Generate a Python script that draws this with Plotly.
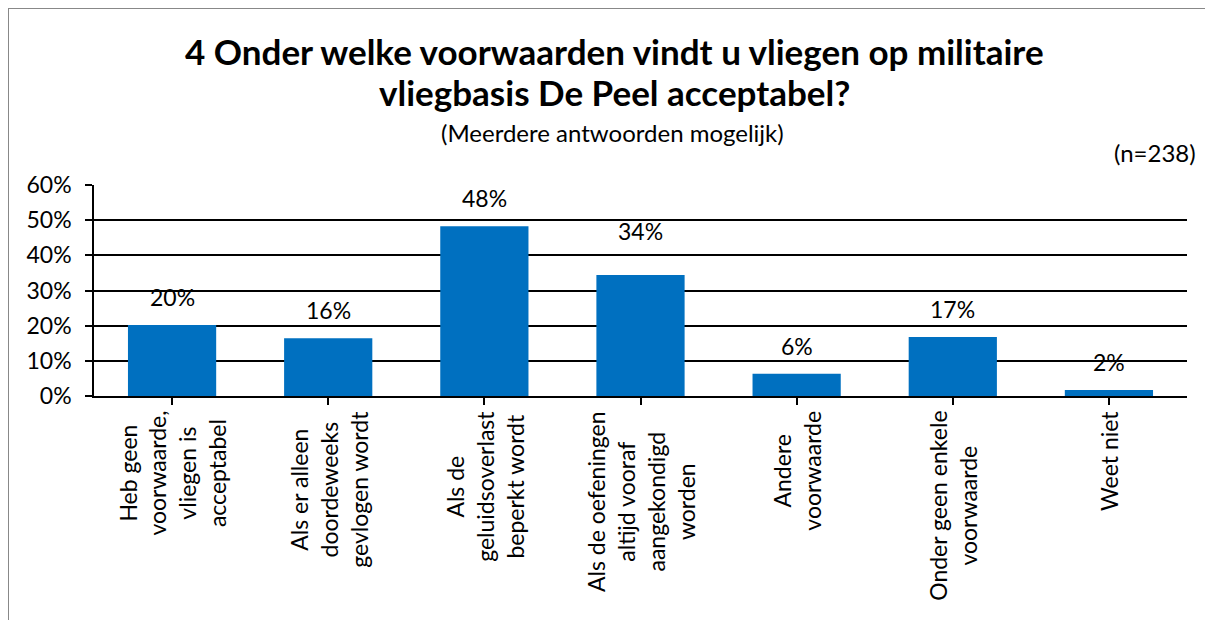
import plotly.graph_objects as go

categories = [
    "Heb geen<br>voorwaarde,<br>vliegen is<br>acceptabel",
    "Als er alleen<br>doordeweeks<br>gevlogen wordt",
    "Als de<br>geluidsoverlast<br>beperkt wordt",
    "Als de oefeningen<br>altijd vooraf<br>aangekondigd<br>worden",
    "Andere<br>voorwaarde",
    "Onder geen enkele<br>voorwaarde",
    "Weet niet",
]
values = [20.2, 16.4, 48.3, 34.4, 6.3, 16.8, 1.7]
labels = ["20%", "16%", "48%", "34%", "6%", "17%", "2%"]
yticks = [0, 10, 20, 30, 40, 50, 60]
ytick_text = ["0%", "10%", "20%", "30%", "40%", "50%", "60%"]

FONT = "Lato"
OFF = 8  # body margin of the html page
W, H = 1197, 612  # fits inside the window without scrollbars
L, R, T, B = 94 - OFF, 1197 - (1187 - OFF), 185 - OFF, 612 - (396 - OFF)
pw, ph = W - L - R, H - T - B

def px(X):
    # page x -> paper
    return (X - OFF - L) / pw

def py(Y):
    # page y -> paper
    return (H - B - (Y - OFF)) / ph

fig = go.Figure()
fig.add_trace(go.Bar(
    x=list(range(len(values))), y=values,
    marker=dict(color="#0070C0", line=dict(width=0)),
    width=0.565,
    text=labels, textposition="none",
    hoverinfo="skip",
))

extra_shift = {3: 16}  # Excel moved this label up to avoid the gridline
annotations = []
for i, (v, t) in enumerate(zip(values, labels)):
    annotations.append(dict(
        x=i, y=v, xref="x", yref="y", text=t, showarrow=False,
        yanchor="bottom", yshift=12 + extra_shift.get(i, 0),
        font=dict(family=FONT, size=23, color="black")))

annotations += [
    dict(x=px(614), y=py(51), xref="paper", yref="paper",
         text="<b>4 Onder welke voorwaarden vindt u vliegen op militaire</b>",
         showarrow=False, font=dict(family=FONT, size=35, color="black"),
         xanchor="center", yanchor="middle"),
    dict(x=px(614), y=py(92), xref="paper", yref="paper",
         text="<b>vliegbasis De Peel acceptabel?</b>",
         showarrow=False, font=dict(family=FONT, size=35, color="black"),
         xanchor="center", yanchor="middle"),
    dict(x=px(612), y=py(132), xref="paper", yref="paper",
         text="(Meerdere antwoorden mogelijk)",
         showarrow=False, font=dict(family=FONT, size=24, color="black"),
         xanchor="center", yanchor="middle"),
    dict(x=px(1198), y=py(152), xref="paper", yref="paper",
         text="(n=238)",
         showarrow=False, font=dict(family=FONT, size=24, color="black"),
         xanchor="right", yanchor="middle"),
]

for i, c in enumerate(categories):
    annotations.append(dict(
        x=i, y=py(409), xref="x", yref="paper", text=c, showarrow=False,
        textangle=-90, align="center", xanchor="center", yanchor="top",
        font=dict(family=FONT, size=23, color="black")))

border = dict(color="#888888", width=2)
fig.update_layout(
    width=W, height=H,
    margin=dict(l=L, r=R, t=T, b=B, autoexpand=False),
    paper_bgcolor="white", plot_bgcolor="white",
    showlegend=False, bargap=0.435,
    annotations=annotations,
    font=dict(family=FONT, color="black"),
    shapes=[
        dict(type="line", xref="paper", yref="paper",
             x0=px(8), x1=px(8), y0=py(700), y1=py(8), line=border, layer="below"),
        dict(type="line", xref="paper", yref="paper",
             x0=px(8), x1=px(1230), y0=py(8), y1=py(8), line=border, layer="below"),
    ],
)
fig.update_xaxes(
    range=[-0.5, len(values) - 0.5],
    tickmode="array", tickvals=list(range(len(values))), ticktext=[""] * len(values),
    showline=True, linecolor="black", linewidth=1.5,
    ticks="outside", tickson="boundaries", ticklen=7, tickcolor="black", tickwidth=1.5,
    showgrid=False, zeroline=False, fixedrange=True,
)
fig.update_yaxes(
    range=[0, 60], tickmode="array", tickvals=yticks, ticktext=ytick_text,
    showline=True, linecolor="black", linewidth=1.5,
    ticks="outside", ticklen=7, tickcolor="black", tickwidth=1.5,
    showgrid=True, gridcolor="black", gridwidth=1.5, zeroline=False,
    tickfont=dict(family=FONT, size=23, color="black"), ticklabelstandoff=9,
)
fig.write_html("out.html")
